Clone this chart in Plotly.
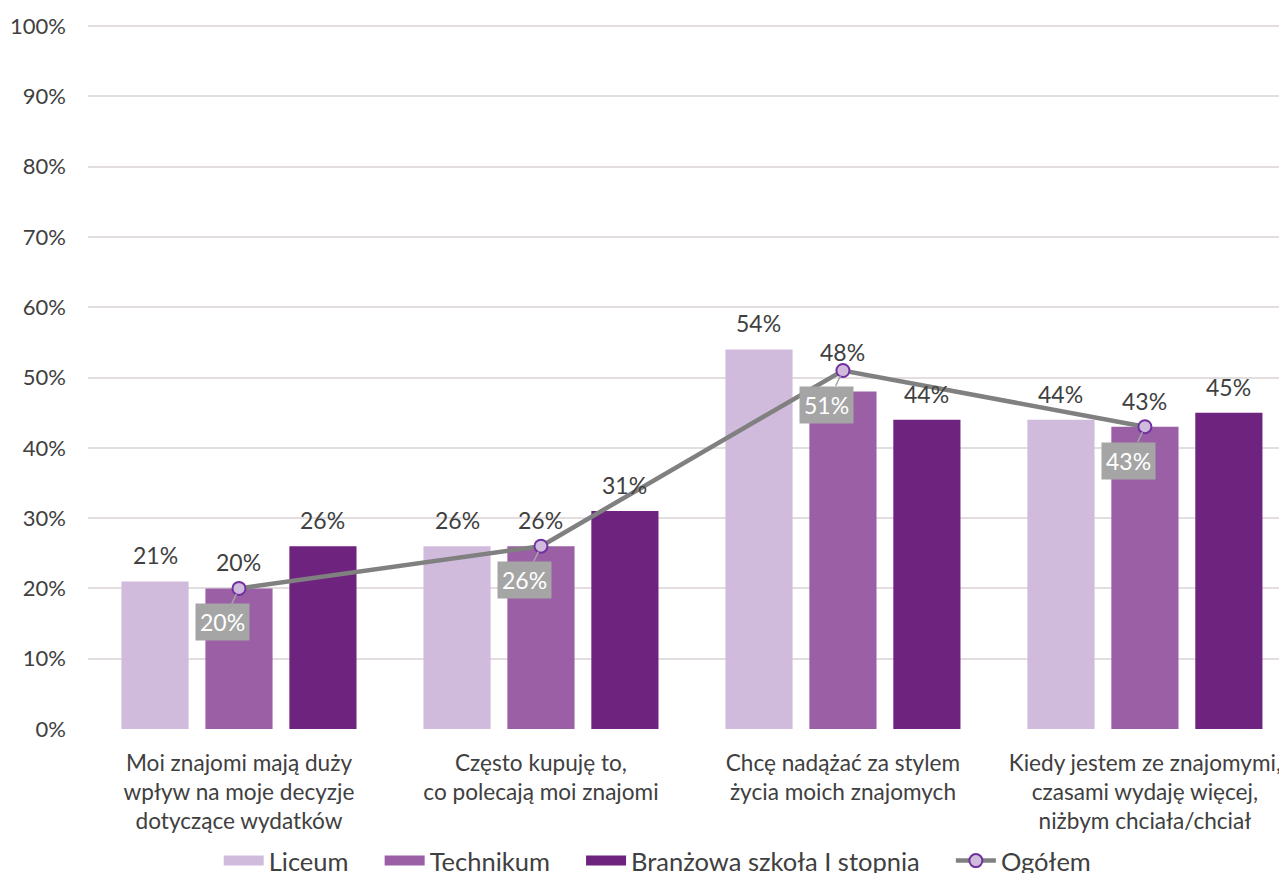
import plotly.graph_objects as go

categories = [
    "Moi znajomi mają duży<br>wpływ na moje decyzje<br>dotyczące wydatków",
    "Często kupuję to,<br>co polecają moi znajomi",
    "Chcę nadążać za stylem<br>życia moich znajomych",
    "Kiedy jestem ze znajomymi,<br>czasami wydaję więcej,<br>niżbym chciała/chciał",
]
liceum = [0.21, 0.26, 0.54, 0.44]
technikum = [0.20, 0.26, 0.48, 0.43]
branzowa = [0.26, 0.31, 0.44, 0.45]
ogolem = [0.20, 0.26, 0.51, 0.43]
tick_vals = [i / 10 for i in range(11)]
tick_text = [f"{i*10}%" for i in range(11)]

FONT = "Lato"
TXT = "#404040"
c_lic = "#D0BBDD"
c_tech = "#9A5FA5"
c_br = "#6E237F"
PAD = "\u00a0" * 4

x_idx = list(range(len(categories)))

fig = go.Figure()
for name, vals, col in [("Liceum", liceum, c_lic), ("Technikum", technikum, c_tech),
                        ("Branżowa szkoła I stopnia", branzowa, c_br)]:
    fig.add_trace(go.Bar(name=name, x=x_idx, y=vals, legendgroup=name, showlegend=False,
                         marker=dict(color=col, line=dict(width=0))))
    # legend entry drawn as a thick short line to mimic the wide rectangular patch
    fig.add_trace(go.Scatter(name=name + PAD, x=[None], y=[None], mode="lines",
                             legendgroup=name, line=dict(color=col, width=17)))

fig.add_trace(go.Scatter(
    name="Ogółem", x=x_idx, y=ogolem, mode="lines+markers",
    line=dict(color="#808080", width=4.5),
    marker=dict(size=13, color=c_lic, line=dict(color="#7030A0", width=2)),
))

annotations = []
bargap = 0.166
slot = (1 - bargap) / 3
series = [liceum, technikum, branzowa]
for k, vals in enumerate(series):
    for i, v in enumerate(vals):
        shift = 26
        if k == 1 and i == 2:
            shift = 40
        annotations.append(dict(
            x=i + (k - 1) * slot, y=v, xref="x", yref="y", text=f"{round(v*100)}%",
            showarrow=False, yshift=shift, font=dict(family=FONT, size=23, color=TXT),
        ))
for i, v in enumerate(ogolem):
    annotations.append(dict(
        x=i, y=v, xref="x", yref="y", text=f"{round(v*100)}%",
        showarrow=True, arrowhead=0, arrowwidth=1.5, arrowcolor="#A5A5A5",
        ax=-16, ay=34, standoff=6, bgcolor="#A5A5A5", borderpad=4,
        font=dict(family=FONT, size=23, color="white"),
    ))

fig.update_layout(
    width=1287, height=873,
    margin=dict(l=80, r=0, t=17, b=152, autoexpand=False),
    paper_bgcolor="white", plot_bgcolor="white",
    barmode="group", bargap=bargap, bargroupgap=0.2,
    font=dict(family=FONT, size=22, color=TXT),
    showlegend=True,
    legend=dict(orientation="h", x=0.472, xanchor="center", y=-0.1875, yanchor="middle",
                font=dict(family=FONT, size=25.5, color=TXT), itemwidth=40,
                traceorder="normal", tracegroupgap=0),
    annotations=annotations,
    xaxis=dict(tickmode="array", tickvals=x_idx, ticktext=categories, range=[-0.5, 3.497],
               showgrid=False, zeroline=False, showline=False, ticks="", automargin=False,
               ticklabelstandoff=18, ticklabeloverflow="allow",
               tickfont=dict(family=FONT, size=22.6, color=TXT)),
    yaxis=dict(range=[0, 1.0015], tickvals=tick_vals, ticktext=tick_text, automargin=False,
               showgrid=True, gridcolor="#E3DDE0", gridwidth=1.5, zeroline=False,
               showline=False, ticks="", ticklabelstandoff=21,
               tickfont=dict(family=FONT, size=22, color=TXT)),
)

fig.write_html("out.html")
